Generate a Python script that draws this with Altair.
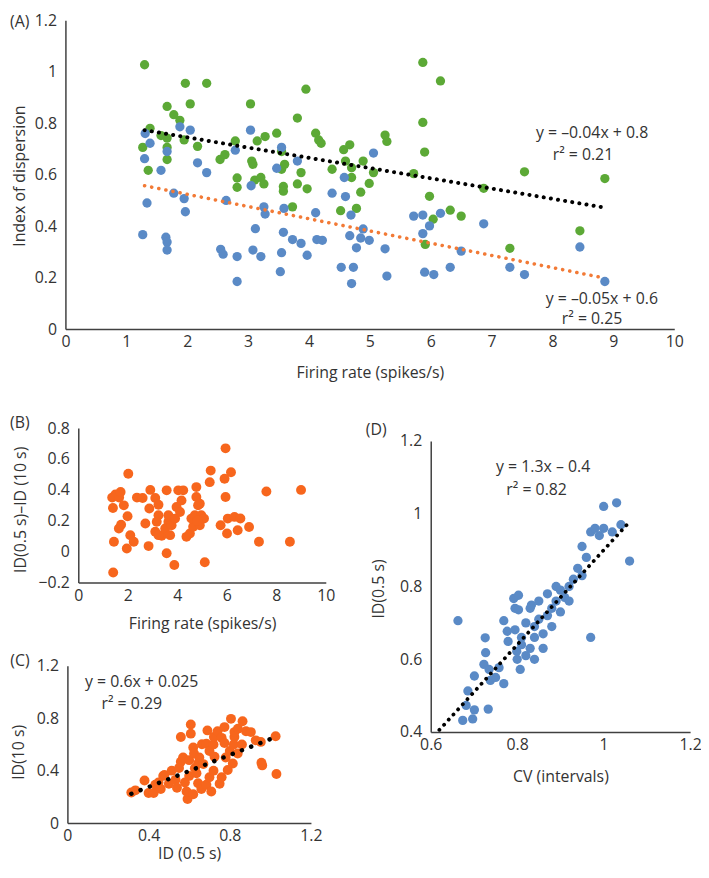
import altair as alt
import pandas as pd

# ---------------- data ----------------
# Panel A: firing rate vs index of dispersion
A_GREEN_X = [1.30, 1.39, 1.27, 1.36, 1.57, 1.67, 1.67, 1.67, 1.67, 1.78, 1.88, 1.95, 1.97, 2.05, 2.17, 2.32,
             2.54, 2.62, 2.79, 2.82, 2.82, 3.04, 3.06, 3.08, 3.15, 3.11, 3.21, 3.26, 3.28, 3.47, 3.55, 3.55,
             3.58, 3.58, 3.60, 3.73, 3.81, 3.87, 3.95, 3.81, 3.97, 4.11, 4.16, 4.20, 4.38, 4.52, 4.57, 4.67,
             4.60, 4.70, 4.70, 4.89, 5.06, 4.99, 4.85, 4.78, 5.25, 5.28, 5.72, 5.87, 6.16, 5.87, 5.90, 5.98,
             6.04, 6.32, 6.50, 5.91, 6.87, 7.30, 7.54, 8.45, 8.86]
A_GREEN_Y = [1.027, 0.780, 0.706, 0.617, 0.752, 0.865, 0.742, 0.706, 0.659, 0.833, 0.811, 0.735, 0.955, 0.875,
             0.710, 0.955, 0.659, 0.678, 0.731, 0.587, 0.551, 0.875, 0.653, 0.640, 0.731, 0.579, 0.589, 0.564,
             0.748, 0.761, 0.690, 0.621, 0.554, 0.536, 0.640, 0.475, 0.820, 0.608, 0.932, 0.564, 0.545, 0.761,
             0.735, 0.722, 0.621, 0.460, 0.697, 0.716, 0.653, 0.627, 0.589, 0.653, 0.608, 0.566, 0.532, 0.469,
             0.754, 0.729, 0.604, 1.036, 0.964, 0.803, 0.688, 0.516, 0.427, 0.462, 0.439, 0.329, 0.547, 0.314,
             0.611, 0.382, 0.585]
A_BLUE_X = [1.31, 1.39, 1.30, 1.34, 1.27, 1.57, 1.67, 1.65, 1.67, 1.67, 1.78, 1.88, 1.95, 1.97, 2.05, 2.17,
            2.32, 2.64, 2.55, 2.59, 2.79, 2.82, 2.82, 3.04, 3.05, 3.12, 3.08, 3.21, 3.26, 3.28, 3.47, 3.55,
            3.59, 3.58, 3.55, 3.53, 3.73, 3.81, 3.87, 3.97, 4.11, 4.13, 4.22, 4.38, 4.60, 4.58, 4.69, 4.67,
            4.53, 4.70, 4.73, 5.06, 4.89, 4.85, 4.99, 4.78, 5.25, 5.28, 5.72, 5.87, 5.98, 6.16, 5.87, 5.90,
            6.05, 6.32, 6.50, 6.87, 7.30, 7.54, 8.45, 8.86]
A_BLUE_Y = [0.760, 0.722, 0.662, 0.490, 0.367, 0.617, 0.690, 0.357, 0.338, 0.307, 0.528, 0.786, 0.507, 0.456,
            0.773, 0.646, 0.608, 0.500, 0.310, 0.291, 0.695, 0.282, 0.185, 0.773, 0.557, 0.390, 0.307, 0.282,
            0.475, 0.447, 0.625, 0.706, 0.469, 0.376, 0.297, 0.223, 0.348, 0.653, 0.333, 0.287, 0.452, 0.348,
            0.345, 0.528, 0.515, 0.589, 0.443, 0.363, 0.240, 0.177, 0.240, 0.684, 0.389, 0.354, 0.345, 0.316,
            0.312, 0.206, 0.439, 0.443, 0.401, 0.450, 0.371, 0.221, 0.212, 0.240, 0.303, 0.409, 0.240, 0.212,
            0.319, 0.185]
A_FIT_HI_X = [1.30, 8.86]
A_FIT_HI_Y = [0.773, 0.472]
A_FIT_LO_X = [1.30, 8.86]
A_FIT_LO_Y = [0.557, 0.198]
A_NOTE_X = [8.65, 8.50, 8.81, 8.65, -0.75]
A_NOTE_Y = [0.762, 0.677, 0.117, 0.040, 1.192]
A_NOTE_T = ["y = \u20130.04x + 0.8", "r\u00b2 = 0.21", "y = \u20130.05x + 0.6", "r\u00b2 = 0.25", "(A)"]

# Panel B: firing rate vs ID(0.5 s) - ID(10 s)
B_X = [1.41, 1.44, 1.37, 1.40, 1.50, 1.65, 1.71, 1.84, 2.02, 1.99, 1.64, 1.73, 2.10, 2.24, 1.96, 2.37,
       2.60, 2.91, 2.87, 2.71, 2.84, 3.11, 3.24, 3.57, 3.24, 3.17, 3.11, 3.37, 3.24, 3.51, 3.64, 3.64,
       3.71, 3.77, 3.91, 3.97, 4.11, 4.17, 4.04, 4.24, 3.57, 3.88, 4.37, 4.51, 4.64, 4.57, 4.71, 4.77,
       4.77, 4.91, 4.97, 5.08, 4.91, 4.84, 4.81, 5.11, 5.31, 5.35, 5.95, 5.91, 6.17, 5.95, 5.75, 6.01,
       6.04, 6.31, 6.44, 6.55, 6.90, 7.30, 7.60, 8.55, 9.00]
B_Y = [-0.135, 0.064, 0.350, 0.283, 0.370, 0.350, 0.386, 0.300, 0.504, 0.229, 0.150, 0.175, 0.107, 0.064,
       0.020, 0.350, 0.347, 0.400, 0.279, 0.182, 0.036, 0.347, 0.304, 0.397, 0.236, 0.193, 0.129, 0.103,
       0.107, 0.150, 0.193, 0.236, 0.107, 0.171, 0.214, 0.289, 0.257, 0.332, 0.397, 0.397, -0.010, -0.086,
       0.096, 0.118, 0.161, 0.214, 0.236, 0.354, 0.418, 0.311, 0.236, 0.214, 0.171, 0.300, 0.200, -0.069,
       0.450, 0.525, 0.669, 0.472, 0.514, 0.354, 0.171, 0.118, 0.214, 0.225, 0.139, 0.215, 0.160, 0.064,
       0.390, 0.064, 0.400]
B_NOTE_X = [-2.36]
B_NOTE_Y = [0.832]
B_NOTE_T = ["(B)"]

# Panel C: ID(0.5 s) vs ID(10 s)
C_X = [0.315, 0.335, 0.380, 0.400, 0.425, 0.433, 0.449, 0.472, 0.478, 0.460, 0.500, 0.514, 0.533, 0.540,
       0.559, 0.559, 0.550, 0.570, 0.579, 0.592, 0.587, 0.600, 0.600, 0.608, 0.608, 0.620, 0.624, 0.628,
       0.620, 0.636, 0.644, 0.644, 0.650, 0.663, 0.660, 0.670, 0.690, 0.685, 0.685, 0.700, 0.700, 0.709,
       0.720, 0.722, 0.725, 0.720, 0.740, 0.750, 0.760, 0.760, 0.774, 0.774, 0.780, 0.790, 0.800, 0.806,
       0.823, 0.815, 0.820, 0.823, 0.839, 0.840, 0.863, 0.860, 0.880, 0.904, 0.928, 0.953, 0.956, 0.960,
       1.026, 1.030]
C_Y = [0.234, 0.250, 0.325, 0.230, 0.229, 0.292, 0.310, 0.360, 0.367, 0.260, 0.300, 0.400, 0.330, 0.270,
       0.657, 0.468, 0.420, 0.500, 0.310, 0.184, 0.241, 0.360, 0.480, 0.752, 0.682, 0.576, 0.531, 0.418,
       0.220, 0.380, 0.455, 0.304, 0.500, 0.601, 0.260, 0.450, 0.707, 0.606, 0.292, 0.550, 0.350, 0.241,
       0.600, 0.657, 0.506, 0.400, 0.700, 0.300, 0.650, 0.350, 0.732, 0.611, 0.500, 0.405, 0.550, 0.795,
       0.657, 0.455, 0.600, 0.694, 0.531, 0.720, 0.777, 0.600, 0.700, 0.694, 0.631, 0.619, 0.460, 0.440,
       0.662, 0.375]
C_FIT_X = [0.315, 1.006]
C_FIT_Y = [0.224, 0.644]
C_NOTE_X = [0.366, 0.317, -0.234]
C_NOTE_Y = [1.077, 0.906, 1.238]
C_NOTE_T = ["y = 0.6x + 0.025", "r\u00b2 = 0.29", "(C)"]

# Panel D: CV (intervals) vs ID(0.5 s)
D_X = [0.663, 0.674, 0.682, 0.686, 0.697, 0.701, 0.701, 0.726, 0.727, 0.723, 0.733, 0.735, 0.738, 0.750,
       0.758, 0.769, 0.769, 0.777, 0.779, 0.795, 0.792, 0.803, 0.795, 0.803, 0.799, 0.807, 0.833, 0.800,
       0.810, 0.820, 0.810, 0.830, 0.840, 0.820, 0.840, 0.850, 0.830, 0.860, 0.870, 0.850, 0.880, 0.860,
       0.840, 0.880, 0.890, 0.900, 0.900, 0.910, 0.920, 0.930, 0.940, 0.950, 0.960, 0.950, 0.970, 0.980,
       0.990, 1.000, 1.020, 1.030, 1.000, 1.040, 1.060, 0.970, 0.920, 0.890, 0.870]
D_Y = [0.706, 0.432, 0.473, 0.513, 0.436, 0.461, 0.554, 0.659, 0.618, 0.586, 0.463, 0.572, 0.542, 0.550,
       0.577, 0.533, 0.706, 0.677, 0.649, 0.681, 0.767, 0.776, 0.740, 0.736, 0.622, 0.572, 0.749, 0.600,
       0.640, 0.610, 0.660, 0.630, 0.660, 0.700, 0.690, 0.710, 0.740, 0.670, 0.720, 0.760, 0.740, 0.630,
       0.600, 0.690, 0.760, 0.730, 0.790, 0.770, 0.800, 0.820, 0.850, 0.830, 0.880, 0.910, 0.950, 0.960,
       0.940, 0.960, 0.950, 1.030, 1.020, 0.970, 0.870, 0.660, 0.760, 0.800, 0.780]
D_FIT_X = [0.62, 1.06]
D_FIT_Y = [0.406, 0.978]
D_NOTE_X = [0.86, 0.845, 0.474]
D_NOTE_Y = [1.127, 1.066, 1.23]
D_NOTE_T = ["y = 1.3x \u2013 0.4", "r\u00b2 = 0.82", "(D)"]

# ---------------- styling ----------------
W, H = 700, 862
FONT = "Open Sans"
FS = 16
TXT = "#333333"
AXC = "#404040"
GREEN = "#5CA936"
BLUE = "#5A8AC6"
ORANGE = "#F7661D"
ORANGE_LINE = "#F27A36"


def df(xs, ys, ts=None):
    d = pd.DataFrame({"x": xs, "y": ys})
    if ts is not None:
        d["t"] = ts
    return d


def sc(domain, rng):
    return alt.Scale(domain=domain, range=rng, nice=False, zero=False)


def xaxis(values, axis_y, title, title_x, title_dy):
    return alt.Axis(orient="bottom", offset=axis_y - H, values=values, format="~r", title=title,
                    grid=False, ticks=False, tickSize=0, domainColor=AXC, domainWidth=1.5,
                    labelFont=FONT, labelFontSize=FS, labelColor=TXT, labelPadding=5,
                    labelFlush=False, labelOverlap=False,
                    titleFont=FONT, titleFontSize=FS, titleFontWeight="normal", titleColor=TXT,
                    titleX=title_x, titleY=title_dy, titleBaseline="middle", titleAlign="center")


def yaxis(values, axis_x, title, title_dx, title_y):
    return alt.Axis(orient="left", offset=-axis_x, values=values, format="~r", title=title,
                    grid=False, ticks=False, tickSize=0, domainColor=AXC, domainWidth=1.5,
                    labelFont=FONT, labelFontSize=FS, labelColor=TXT, labelPadding=9,
                    labelFlush=False, labelOverlap=False,
                    titleFont=FONT, titleFontSize=FS, titleFontWeight="normal", titleColor=TXT,
                    titleX=title_dx, titleY=title_y, titleBaseline="middle", titleAlign="center",
                    titleAngle=270)


def points(d, xs, ys, color, size, xax=None, yax=None):
    return alt.Chart(d).mark_circle(size=size, color=color, opacity=1).encode(
        x=alt.X("x:Q", scale=xs, axis=xax), y=alt.Y("y:Q", scale=ys, axis=yax))


def dotted(d, xs, ys, color, width, gap):
    return alt.Chart(d).mark_line(color=color, strokeWidth=width, strokeDash=[0.1, gap],
                                  strokeCap="round").encode(
        x=alt.X("x:Q", scale=xs, axis=None), y=alt.Y("y:Q", scale=ys, axis=None))


def notes(d, xs, ys):
    return alt.Chart(d).mark_text(font=FONT, fontSize=FS, color=TXT, align="center",
                                  baseline="middle").encode(
        x=alt.X("x:Q", scale=xs, axis=None), y=alt.Y("y:Q", scale=ys, axis=None), text="t:N")


# chart coordinates = image coordinates - 8 (page margin)
xA = sc([0, 10], [58, 673]);      yA = sc([0, 1.2], [320, 8])
xB = sc([0, 10], [71, 321]);      yB = sc([-0.2, 0.8], [576, 420])
xC = sc([0, 1.2], [60, 306]);     yC = sc([0, 1.2], [819, 660])
xD = sc([0.6, 1.2], [427, 689]);  yD = sc([0.4, 1.2], [727, 433])

layers = [
    # Panel A
    points(df(A_GREEN_X, A_GREEN_Y), xA, yA, GREEN, 88,
           xaxis(list(range(0, 11)), 320, "Firing rate (spikes/s)", 365.5, 44),
           yaxis([0, 0.2, 0.4, 0.6, 0.8, 1, 1.2], 58, "Index of dispersion", -46, 165)),
    points(df(A_BLUE_X, A_BLUE_Y), xA, yA, BLUE, 88),
    dotted(df(A_FIT_HI_X, A_FIT_HI_Y), xA, yA, "#000000", 4, 7.2),
    dotted(df(A_FIT_LO_X, A_FIT_LO_Y), xA, yA, ORANGE_LINE, 3.6, 7.2),
    notes(df(A_NOTE_X, A_NOTE_Y, A_NOTE_T), xA, yA),
    # Panel B
    points(df(B_X, B_Y), xB, yB, ORANGE, 100,
           xaxis([0, 2, 4, 6, 8, 10], 576, "Firing rate (spikes/s)", 196, 41),
           yaxis([-0.2, 0, 0.2, 0.4, 0.6, 0.8], 71, "ID(0.5 s)\u2013ID (10 s)", -58, 502)),
    notes(df(B_NOTE_X, B_NOTE_Y, B_NOTE_T), xB, yB),
    # Panel C
    points(df(C_X, C_Y), xC, yC, ORANGE, 100,
           xaxis([0, 0.4, 0.8, 1.2], 819, "ID (0.5 s)", 183, 31),
           yaxis([0, 0.4, 0.8, 1.2], 60, "ID(10 s)", -49, 747)),
    dotted(df(C_FIT_X, C_FIT_Y), xC, yC, "#000000", 4.5, 9.9),
    notes(df(C_NOTE_X, C_NOTE_Y, C_NOTE_T), xC, yC),
    # Panel D
    points(df(D_X, D_Y), xD, yD, BLUE, 88,
           xaxis([0.6, 0.8, 1, 1.2], 727, "CV (intervals)", 558, 45),
           yaxis([0.4, 0.6, 0.8, 1, 1.2], 427, "ID(0.5 s)", -53, 582)),
    dotted(df(D_FIT_X, D_FIT_Y), xD, yD, "#000000", 3.8, 6.9),
    notes(df(D_NOTE_X, D_NOTE_Y, D_NOTE_T), xD, yD),
]

chart = alt.layer(*layers).resolve_scale(
    x="independent", y="independent"
).resolve_axis(
    x="independent", y="independent"
).properties(
    width=W, height=H, padding=0, autosize=alt.AutoSizeParams(type="none"), background="white"
).configure_view(stroke=None)

chart.save("out.html", embed_options={"renderer": "svg", "actions": False})
